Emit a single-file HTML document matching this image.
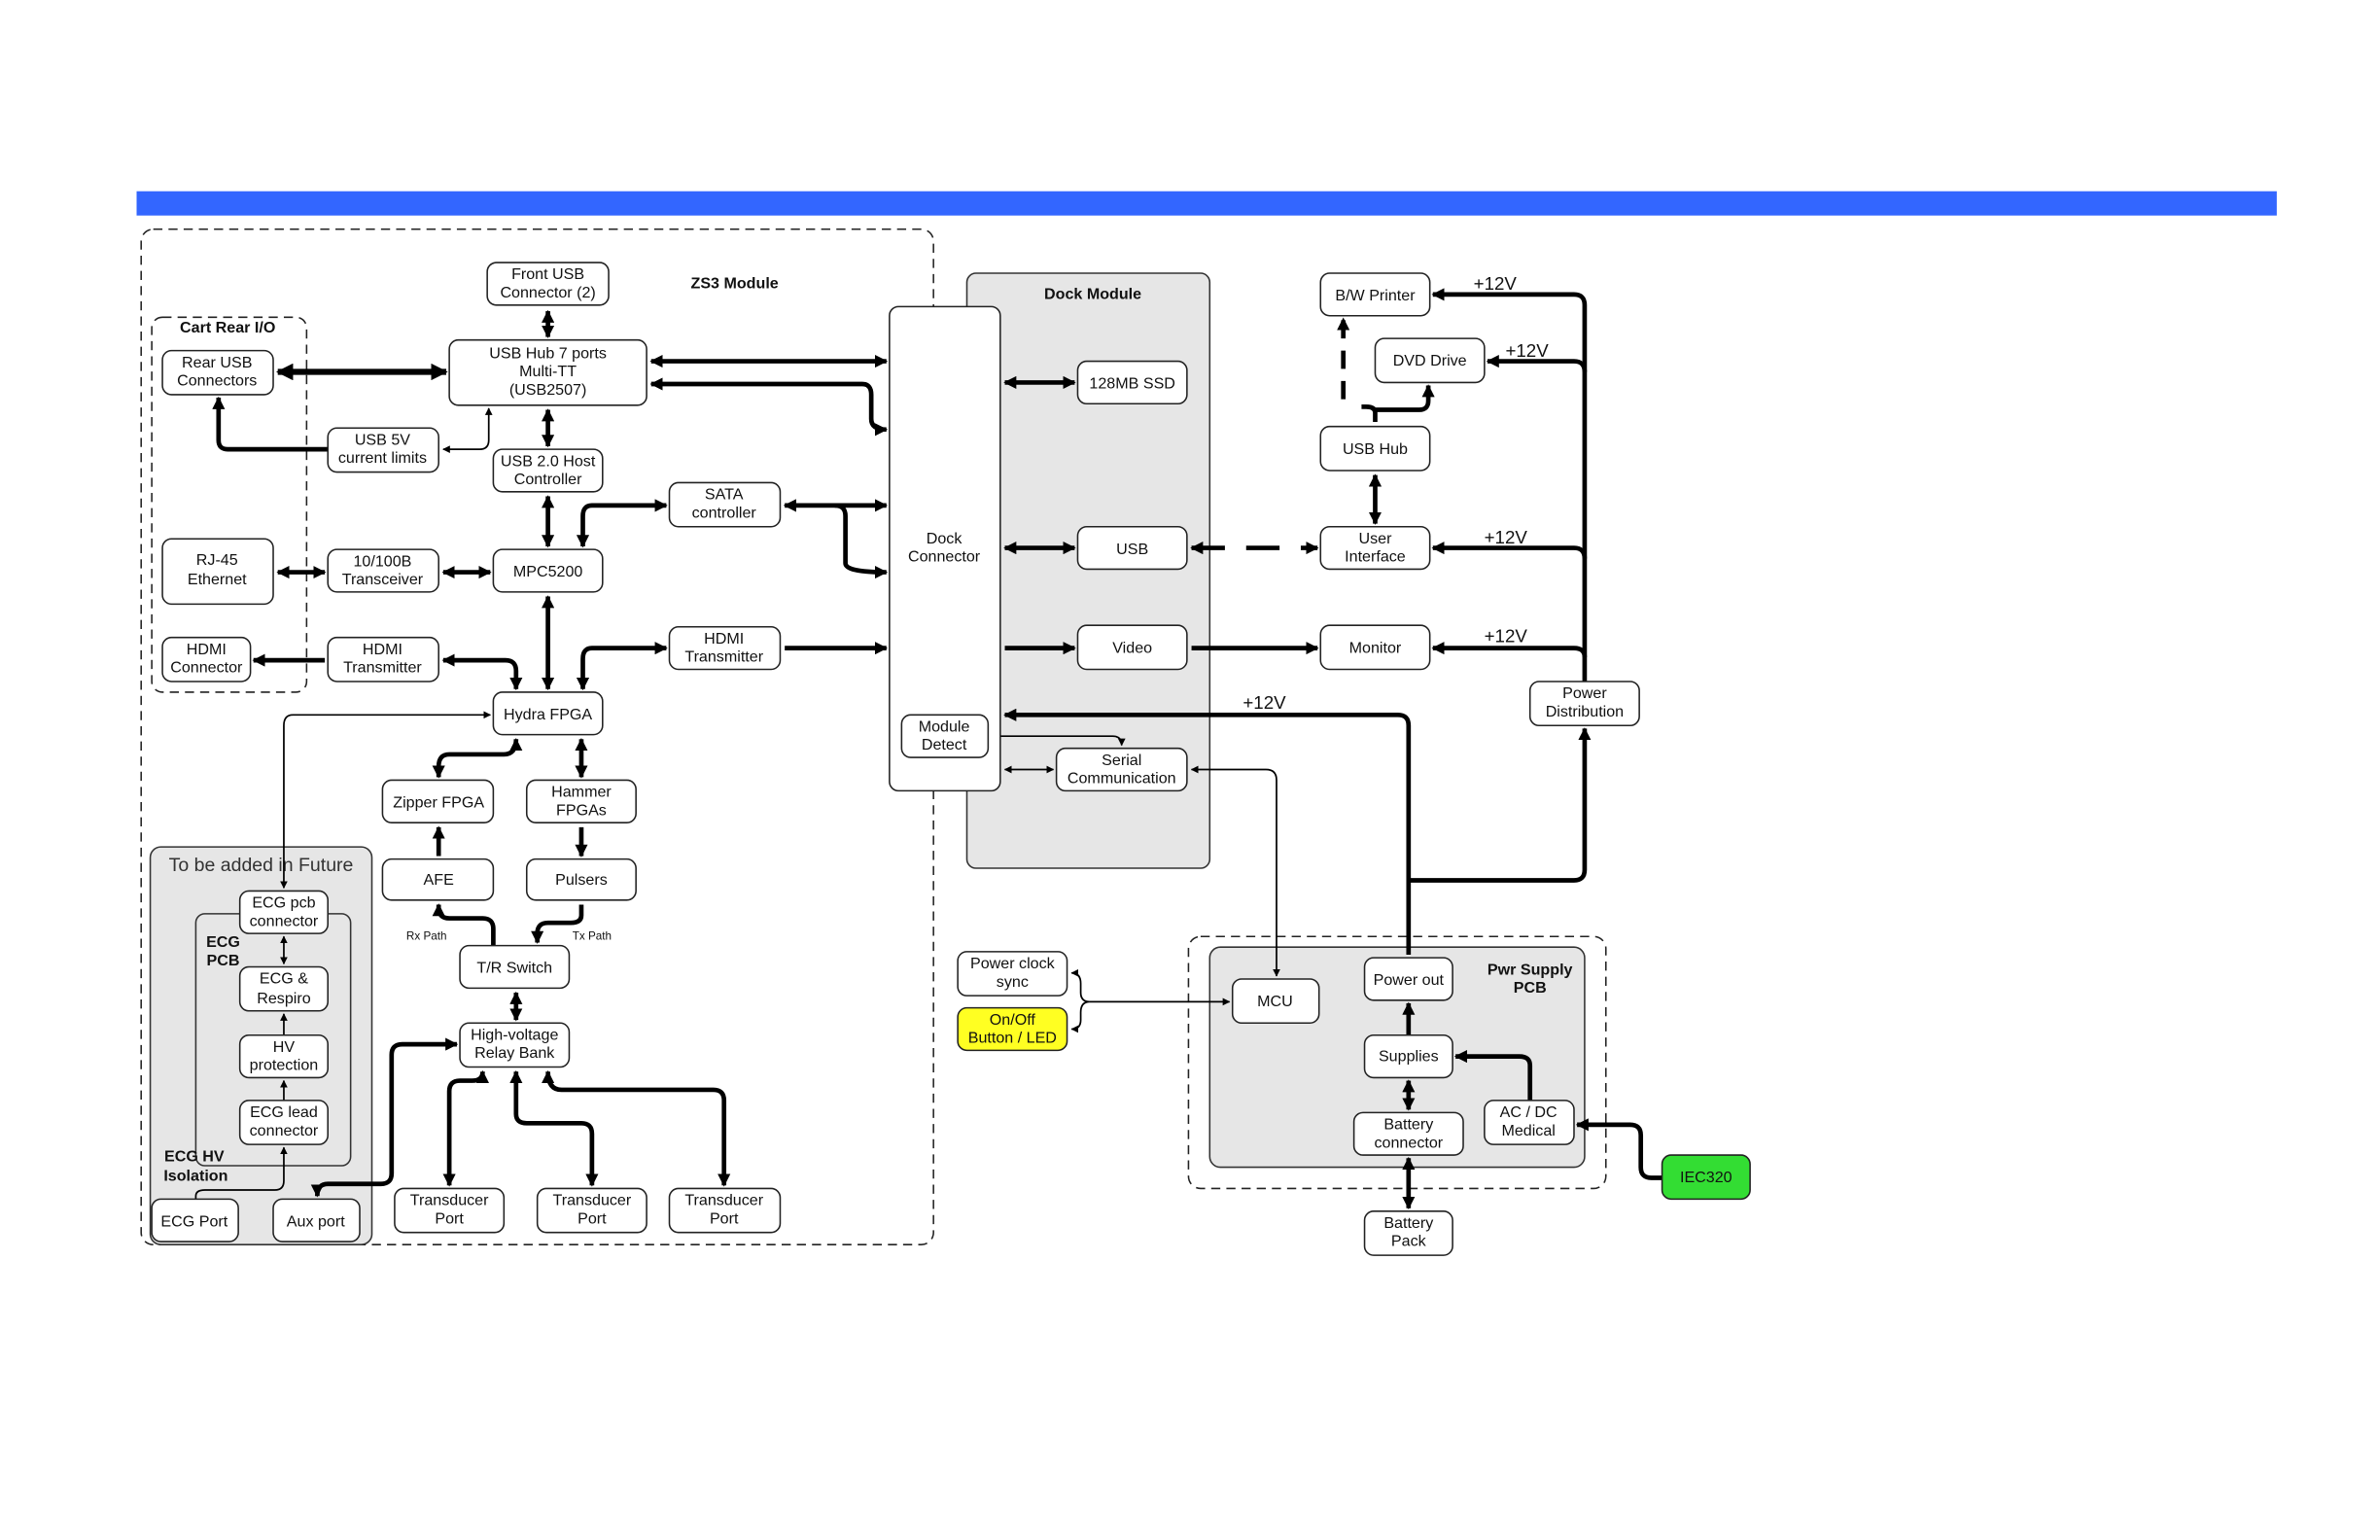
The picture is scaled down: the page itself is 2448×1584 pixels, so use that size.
<!DOCTYPE html>
<html><head><meta charset="utf-8"><style>
html,body{margin:0;padding:0;background:#fff;width:2448px;height:1584px;overflow:hidden}
svg{display:block}
text{font-family:"Liberation Sans",sans-serif;font-size:10.3px;fill:#111;text-anchor:middle}
.b{font-weight:bold}
.bx{fill:#fff;stroke:#222;stroke-width:1}
.t{fill:none;stroke:#000;stroke-width:3;stroke-linejoin:round}
.n{fill:none;stroke:#000;stroke-width:1.1}
.d{fill:none;stroke:#222;stroke-width:1;stroke-dasharray:6 4}
</style></head><body>
<svg width="2448" height="1584" viewBox="0 0 1568 1014.6" preserveAspectRatio="none" xmlns="http://www.w3.org/2000/svg">
<defs>
<marker id="a" viewBox="0 0 10 10" refX="9" refY="5" markerWidth="4.5" markerHeight="4.5" orient="auto-start-reverse"><path d="M0,0L10,5L0,10z" fill="#000"/></marker>
<marker id="s" viewBox="0 0 10 10" refX="9" refY="5" markerWidth="2.8" markerHeight="2.8" orient="auto-start-reverse"><path d="M0,0L10,5L0,10z" fill="#000"/></marker>
</defs>
<rect x="90" y="126" width="1410" height="16" fill="#3366ff"/>
<rect x="93" y="151" width="522" height="669" rx="8" class="d"/>
<rect x="100" y="209" width="102" height="247" rx="7" class="d"/>
<rect x="99" y="558" width="146" height="262" rx="7" fill="#e6e6e6" stroke="#333"/>
<rect x="129" y="602" width="102" height="166" rx="6" fill="#e6e6e6" stroke="#333"/>
<rect x="637" y="180" width="160" height="392" rx="6" fill="#e6e6e6" stroke="#333"/>
<rect x="783" y="617" width="275" height="166" rx="8" class="d"/>
<rect x="797" y="624" width="247" height="145" rx="7" fill="#e6e6e6" stroke="#333"/>
<text x="484" y="190" class="b">ZS3 Module</text>
<text x="150" y="219" class="b">Cart Rear I/O</text>
<text x="720" y="197" class="b">Dock Module</text>
<text x="172" y="574" style="font-size:12.5px;fill:#333">To be added in Future</text>
<text x="147" y="624" class="b">ECG</text><text x="147" y="636" class="b">PCB</text>
<text x="128" y="765" class="b">ECG HV</text><text x="129" y="778" class="b">Isolation</text>
<text x="1008" y="642" class="b">Pwr Supply</text><text x="1008" y="654" class="b">PCB</text>
<g class="t">
<path d="M361,205V222" marker-start="url(#s)" marker-end="url(#s)"/>
<path d="M183,245H294" marker-start="url(#s)" marker-end="url(#s)" stroke-width="4"/>
<path d="M429,238H584" marker-start="url(#s)" marker-end="url(#s)"/>
<path d="M429,253H568Q574,253 574,260V276Q574,283 584,283" marker-start="url(#s)" marker-end="url(#s)"/>
<path d="M216,296H150Q144,296 144,290V262" marker-end="url(#s)"/>
<path d="M361,270V294" marker-start="url(#s)" marker-end="url(#s)"/>
<path d="M361,327V360" marker-start="url(#s)" marker-end="url(#s)"/>
<path d="M439,333H390Q384,333 384,340V360" marker-start="url(#s)" marker-end="url(#s)"/>
<path d="M517,333H584" marker-start="url(#s)" marker-end="url(#s)"/>
<path d="M550,333Q557,333 557,340V371Q557,377 584,377" marker-end="url(#s)"/>
<path d="M183,377H214" marker-start="url(#s)" marker-end="url(#s)"/>
<path d="M292,377H323" marker-start="url(#s)" marker-end="url(#s)"/>
<path d="M361,393V454" marker-start="url(#s)" marker-end="url(#s)"/>
<path d="M214,435H167" marker-end="url(#s)"/>
<path d="M292,435H333Q340,435 340,442V454" marker-start="url(#s)" marker-end="url(#s)"/>
<path d="M439,427H390Q384,427 384,434V454" marker-start="url(#s)" marker-end="url(#s)"/>
<path d="M517,427H584" marker-end="url(#s)"/>
<path d="M340,487Q340,497 332,497H296Q289,497 289,505V512" marker-start="url(#s)" marker-end="url(#s)"/>
<path d="M383,487V512" marker-start="url(#s)" marker-end="url(#s)"/>
<path d="M289,564V545" marker-end="url(#s)"/>
<path d="M383,545V564" marker-end="url(#s)"/>
<path d="M325,623V612Q325,605 318,605H296Q289,605 289,598V596" marker-end="url(#s)"/>
<path d="M383,596V603Q383,608 376,608H361Q354,608 354,615V621" marker-end="url(#s)"/>
<path d="M340,654V672" marker-start="url(#s)" marker-end="url(#s)"/>
<path d="M301,688H265Q258,688 258,695V773Q258,780 251,780H216Q209,780 209,788" marker-start="url(#s)" marker-end="url(#s)"/>
<path d="M318,706Q318,712 311,712H303Q296,712 296,719V781" marker-start="url(#s)" marker-end="url(#s)"/>
<path d="M340,706V734Q340,740 347,740H383Q390,740 390,747V781" marker-start="url(#s)" marker-end="url(#s)"/>
<path d="M361,706Q361,718 370,718H470Q477,718 477,725V781" marker-start="url(#s)" marker-end="url(#s)"/>
<path d="M662,252H708" marker-start="url(#s)" marker-end="url(#s)"/>
<path d="M662,361H708" marker-start="url(#s)" marker-end="url(#s)"/>
<path d="M785,361H868" marker-start="url(#s)" marker-end="url(#s)" stroke-dasharray="22 14"/>
<path d="M662,427H708" marker-end="url(#s)"/>
<path d="M785,427H868" marker-end="url(#s)"/>
<path d="M885,263V210" marker-end="url(#s)" stroke-dasharray="12 8"/>
<path d="M906,278V272Q906,268 900,268H897M906,270H935Q941,270 941,264V254" marker-end="url(#s)"/>
<path d="M906,313V345" marker-start="url(#s)" marker-end="url(#s)"/>
<path d="M1044,449V201Q1044,194 1037,194H944" marker-end="url(#s)"/>
<path d="M1044,245Q1044,238 1037,238H980" marker-end="url(#s)"/>
<path d="M1044,368Q1044,361 1037,361H944" marker-end="url(#s)"/>
<path d="M1044,433Q1044,427 1037,427H944" marker-end="url(#s)"/>
<path d="M928,629V478Q928,471 921,471H662" marker-end="url(#s)"/>
<path d="M928,580H1037Q1044,580 1044,573V480" marker-end="url(#s)"/>
<path d="M928,682V661" marker-end="url(#s)"/>
<path d="M928,712V731" marker-start="url(#s)" marker-end="url(#s)"/>
<path d="M1008,725V702Q1008,696 1001,696H959" marker-end="url(#s)"/>
<path d="M1095,776H1088Q1081,776 1081,769V748Q1081,741 1074,741H1039" marker-end="url(#s)"/>
<path d="M928,763V796" marker-start="url(#s)" marker-end="url(#s)"/>
</g>
<g class="n">
<path d="M292,296H316Q322,296 322,290V269" marker-start="url(#a)" marker-end="url(#a)"/>
<path d="M323,471H193Q187,471 187,478V585" marker-start="url(#a)" marker-end="url(#a)"/>
<path d="M187,617V635" marker-start="url(#a)" marker-end="url(#a)"/>
<path d="M187,682V668" marker-end="url(#a)"/>
<path d="M187,725V712" marker-end="url(#a)"/>
<path d="M129,790V788Q129,784 135,784H181Q187,784 187,778V756" marker-end="url(#a)"/>
<path d="M653,485H733Q739,485 739,491" marker-start="url(#a)" marker-end="url(#a)"/>
<path d="M662,507H694" marker-start="url(#a)" marker-end="url(#a)"/>
<path d="M785,507H834Q841,507 841,514V643" marker-start="url(#a)" marker-end="url(#a)"/>
<path d="M810,660H718" marker-start="url(#a)"/>
<path d="M706,641Q712,641 712,648V654Q712,660 718,660Q712,660 712,667V672Q712,678 706,678" marker-start="url(#a)" marker-end="url(#a)"/>
</g>
<g>
<rect class="bx" x="321" y="173" width="80" height="28" rx="6"/><text x="361" y="184">Front USB</text><text x="361" y="196">Connector (2)</text>
<rect class="bx" x="296" y="224" width="130" height="43" rx="6"/><text x="361" y="236">USB Hub 7 ports</text><text x="361" y="248">Multi-TT</text><text x="361" y="260">(USB2507)</text>
<rect class="bx" x="107" y="231" width="73" height="29" rx="6"/><text x="143" y="242">Rear USB</text><text x="143" y="254">Connectors</text>
<rect class="bx" x="216" y="282" width="73" height="29" rx="6"/><text x="252" y="293">USB 5V</text><text x="252" y="305">current limits</text>
<rect class="bx" x="325" y="296" width="72" height="28" rx="6"/><text x="361" y="307">USB 2.0 Host</text><text x="361" y="319">Controller</text>
<rect class="bx" x="441" y="318" width="73" height="29" rx="6"/><text x="477" y="329">SATA</text><text x="477" y="341">controller</text>
<rect class="bx" x="107" y="355" width="73" height="43" rx="6"/><text x="143" y="372">RJ-45</text><text x="143" y="385">Ethernet</text>
<rect class="bx" x="216" y="362" width="73" height="28" rx="6"/><text x="252" y="373">10/100B</text><text x="252" y="385">Transceiver</text>
<rect class="bx" x="325" y="362" width="72" height="28" rx="6"/><text x="361" y="380">MPC5200</text>
<rect class="bx" x="107" y="420" width="58" height="29" rx="6"/><text x="136" y="431">HDMI</text><text x="136" y="443">Connector</text>
<rect class="bx" x="216" y="420" width="73" height="29" rx="6"/><text x="252" y="431">HDMI</text><text x="252" y="443">Transmitter</text>
<rect class="bx" x="441" y="413" width="73" height="28" rx="6"/><text x="477" y="424">HDMI</text><text x="477" y="436">Transmitter</text>
<rect class="bx" x="325" y="456" width="72" height="28" rx="6"/><text x="361" y="474">Hydra FPGA</text>
<rect class="bx" x="252" y="514" width="73" height="28" rx="6"/><text x="289" y="532">Zipper FPGA</text>
<rect class="bx" x="347" y="514" width="72" height="28" rx="6"/><text x="383" y="525">Hammer</text><text x="383" y="537">FPGAs</text>
<rect class="bx" x="252" y="566" width="73" height="27" rx="6"/><text x="289" y="583">AFE</text>
<rect class="bx" x="347" y="566" width="72" height="27" rx="6"/><text x="383" y="583">Pulsers</text>
<text x="281" y="619" style="font-size:7.5px">Rx Path</text><text x="390" y="619" style="font-size:7.5px">Tx Path</text>
<rect class="bx" x="303" y="623" width="72" height="28" rx="6"/><text x="339" y="641">T/R Switch</text>
<rect class="bx" x="303" y="674" width="72" height="29" rx="6"/><text x="339" y="685">High-voltage</text><text x="339" y="697">Relay Bank</text>
<rect class="bx" x="260" y="783" width="72" height="29" rx="6"/><text x="296" y="794">Transducer</text><text x="296" y="806">Port</text>
<rect class="bx" x="354" y="783" width="72" height="29" rx="6"/><text x="390" y="794">Transducer</text><text x="390" y="806">Port</text>
<rect class="bx" x="441" y="783" width="73" height="29" rx="6"/><text x="477" y="794">Transducer</text><text x="477" y="806">Port</text>
<rect class="bx" x="158" y="587" width="58" height="28" rx="6"/><text x="187" y="598">ECG pcb</text><text x="187" y="610">connector</text>
<rect class="bx" x="158" y="637" width="58" height="29" rx="6"/><text x="187" y="648">ECG &amp;</text><text x="187" y="661">Respiro</text>
<rect class="bx" x="158" y="682" width="58" height="28" rx="6"/><text x="187" y="693">HV</text><text x="187" y="705">protection</text>
<rect class="bx" x="158" y="725" width="58" height="29" rx="6"/><text x="187" y="736">ECG lead</text><text x="187" y="748">connector</text>
<rect class="bx" x="100" y="790" width="57" height="28" rx="6"/><text x="128" y="808">ECG Port</text>
<rect class="bx" x="180" y="790" width="57" height="28" rx="6"/><text x="208" y="808">Aux port</text>
<rect class="bx" x="586" y="202" width="73" height="319" rx="6"/><text x="622" y="358">Dock</text><text x="622" y="370">Connector</text>
<rect class="bx" x="594" y="471" width="57" height="28" rx="6"/><text x="622" y="482">Module</text><text x="622" y="494">Detect</text>
<rect class="bx" x="710" y="238" width="72" height="28" rx="6"/><text x="746" y="256">128MB SSD</text>
<rect class="bx" x="710" y="347" width="72" height="28" rx="6"/><text x="746" y="365">USB</text>
<rect class="bx" x="710" y="412" width="72" height="29" rx="6"/><text x="746" y="430">Video</text>
<rect class="bx" x="696" y="493" width="86" height="28" rx="6"/><text x="739" y="504">Serial</text><text x="739" y="516">Communication</text>
<rect class="bx" x="870" y="180" width="72" height="28" rx="6"/><text x="906" y="198">B/W Printer</text>
<rect class="bx" x="906" y="223" width="72" height="29" rx="6"/><text x="942" y="241">DVD Drive</text>
<rect class="bx" x="870" y="281" width="72" height="29" rx="6"/><text x="906" y="299">USB Hub</text>
<rect class="bx" x="870" y="347" width="72" height="28" rx="6"/><text x="906" y="358">User</text><text x="906" y="370">Interface</text>
<rect class="bx" x="870" y="412" width="72" height="29" rx="6"/><text x="906" y="430">Monitor</text>
<rect class="bx" x="1008" y="449" width="72" height="29" rx="6"/><text x="1044" y="460">Power</text><text x="1044" y="472">Distribution</text>
<rect class="bx" x="812" y="645" width="57" height="29" rx="6"/><text x="840" y="663">MCU</text>
<rect class="bx" x="899" y="631" width="58" height="28" rx="6"/><text x="928" y="649">Power out</text>
<rect class="bx" x="899" y="682" width="58" height="28" rx="6"/><text x="928" y="699">Supplies</text>
<rect class="bx" x="892" y="733" width="72" height="28" rx="6"/><text x="928" y="744">Battery</text><text x="928" y="756">connector</text>
<rect class="bx" x="978" y="725" width="59" height="29" rx="6"/><text x="1007" y="736">AC / DC</text><text x="1007" y="748">Medical</text>
<rect class="bx" x="899" y="798" width="58" height="29" rx="6"/><text x="928" y="809">Battery</text><text x="928" y="821">Pack</text>
<rect x="1095" y="761" width="58" height="29" rx="6" fill="#33dd33" stroke="#222"/><text x="1124" y="779">IEC320</text>
<rect class="bx" x="631" y="627" width="72" height="29" rx="6"/><text x="667" y="638">Power clock</text><text x="667" y="650">sync</text>
<rect x="631" y="664" width="72" height="28" rx="6" fill="#ffff22" stroke="#222"/><text x="667" y="675">On/Off</text><text x="667" y="687">Button / LED</text>
</g>
<text x="985" y="191" style="font-size:12px">+12V</text>
<text x="1006" y="235" style="font-size:12px">+12V</text>
<text x="992" y="358" style="font-size:12px">+12V</text>
<text x="992" y="423" style="font-size:12px">+12V</text>
<text x="833" y="467" style="font-size:12px">+12V</text>
</svg>
</body></html>
